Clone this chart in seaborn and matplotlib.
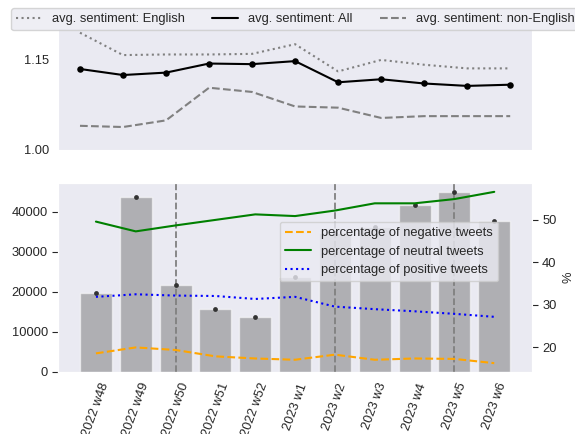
import numpy as np
import pandas as pd
import matplotlib
matplotlib.use("Agg")
import matplotlib.pyplot as plt
import seaborn as sns

weeks = ["2022 w48", "2022 w49", "2022 w50", "2022 w51", "2022 w52", "2023 w1",
         "2023 w2", "2023 w3", "2023 w4", "2023 w5", "2023 w6"]

sent_english = [1.194, 1.157, 1.158, 1.158, 1.159, 1.175, 1.130, 1.149, 1.141, 1.135, 1.135]
sent_all = [1.134, 1.124, 1.128, 1.143, 1.142, 1.147, 1.112, 1.117, 1.110, 1.106, 1.108]
sent_non_english = [1.040, 1.038, 1.049, 1.103, 1.096, 1.072, 1.070, 1.053, 1.056, 1.056, 1.056]

tweet_counts = [19700, 43600, 21600, 15700, 13600, 23700, 34700, 36300, 41800, 44900, 37800]
pct_negative = [18.6, 20.0, 19.4, 17.9, 17.4, 17.1, 18.3, 17.1, 17.4, 17.3, 16.3]
pct_neutral = [49.6, 47.3, 48.7, 50.0, 51.3, 50.9, 52.2, 53.9, 53.9, 54.9, 56.6]
pct_positive = [31.9, 32.5, 32.2, 32.1, 31.4, 31.9, 29.6, 29.0, 28.5, 27.9, 27.2]

event_weeks = ["2022 w50", "2023 w2", "2023 w5"]

sns.set_style("dark")
plt.rcParams["font.family"] = ["Liberation Sans", "DejaVu Sans"]
plt.rcParams["font.size"] = 9.3

pos = np.arange(len(weeks))
df = pd.DataFrame({"week": weeks, "pos": pos, "count": tweet_counts})

fig = plt.figure(figsize=(5.75, 4.34), dpi=100)
ax_top = fig.add_axes([0.1017, 0.6544, 0.823, 0.2811])
ax = fig.add_axes([0.1017, 0.1435, 0.823, 0.4342])

# top panel: average sentiment
sns.lineplot(x=pos, y=sent_english, ax=ax_top, color="gray", linestyle=":",
             label="avg. sentiment: English")
sns.lineplot(x=pos, y=sent_all, ax=ax_top, color="black",
             label="avg. sentiment: All")
sns.scatterplot(x=pos, y=sent_all, ax=ax_top, color="black", s=22,
                linewidth=0, zorder=3)
sns.lineplot(x=pos, y=sent_non_english, ax=ax_top, color="gray", linestyle="--",
             label="avg. sentiment: non-English")
ax_top.set_ylim(bottom=1.0)
ax_top.set_yticks([1.0, 1.15])
ax_top.set_xticks([])
ax_top.tick_params(axis="y", labelsize=9.3)
ax_top.legend(ncol=3, loc="lower left", bbox_to_anchor=(0.019, 0.93),
              bbox_transform=fig.transFigure, borderaxespad=0, fontsize=9.3,
              columnspacing=2.1)

# bottom panel: tweet counts + sentiment shares
sns.barplot(data=df, x="pos", y="count", color="gray", alpha=0.55, ax=ax)
sns.scatterplot(data=df, x="pos", y="count", color="#333333", s=12,
                linewidth=0, ax=ax, zorder=3)
for w in event_weeks:
    ax.axvline(weeks.index(w), color="gray", linestyle="--", linewidth=1.3)
ax.set_xlabel("")
ax.set_ylabel("")
ax.set_xticks(pos)
ax.set_xticklabels(weeks, rotation=70)
ax.tick_params(axis="y", left=True, length=4, labelsize=9.3)
ax.tick_params(axis="x", labelsize=9.3)

ax2 = ax.twinx()
sns.lineplot(x=pos, y=pct_negative, ax=ax2, color="orange", linestyle="--",
             label="percentage of negative tweets")
sns.lineplot(x=pos, y=pct_neutral, ax=ax2, color="green",
             label="percentage of neutral tweets")
sns.lineplot(x=pos, y=pct_positive, ax=ax2, color="blue", linestyle=":",
             label="percentage of positive tweets")
ax2.set_ylabel("%")
ax2.set_yticks([20, 30, 40, 50])
ax2.tick_params(axis="y", right=True, length=4, labelsize=9.3)
ax2.legend(loc="upper right", bbox_to_anchor=(0.929, 0.795), borderaxespad=0,
           fontsize=9.3)
ax.set_xlim(-0.94, len(weeks) - 0.06)

fig.savefig("out.png", dpi=100)
